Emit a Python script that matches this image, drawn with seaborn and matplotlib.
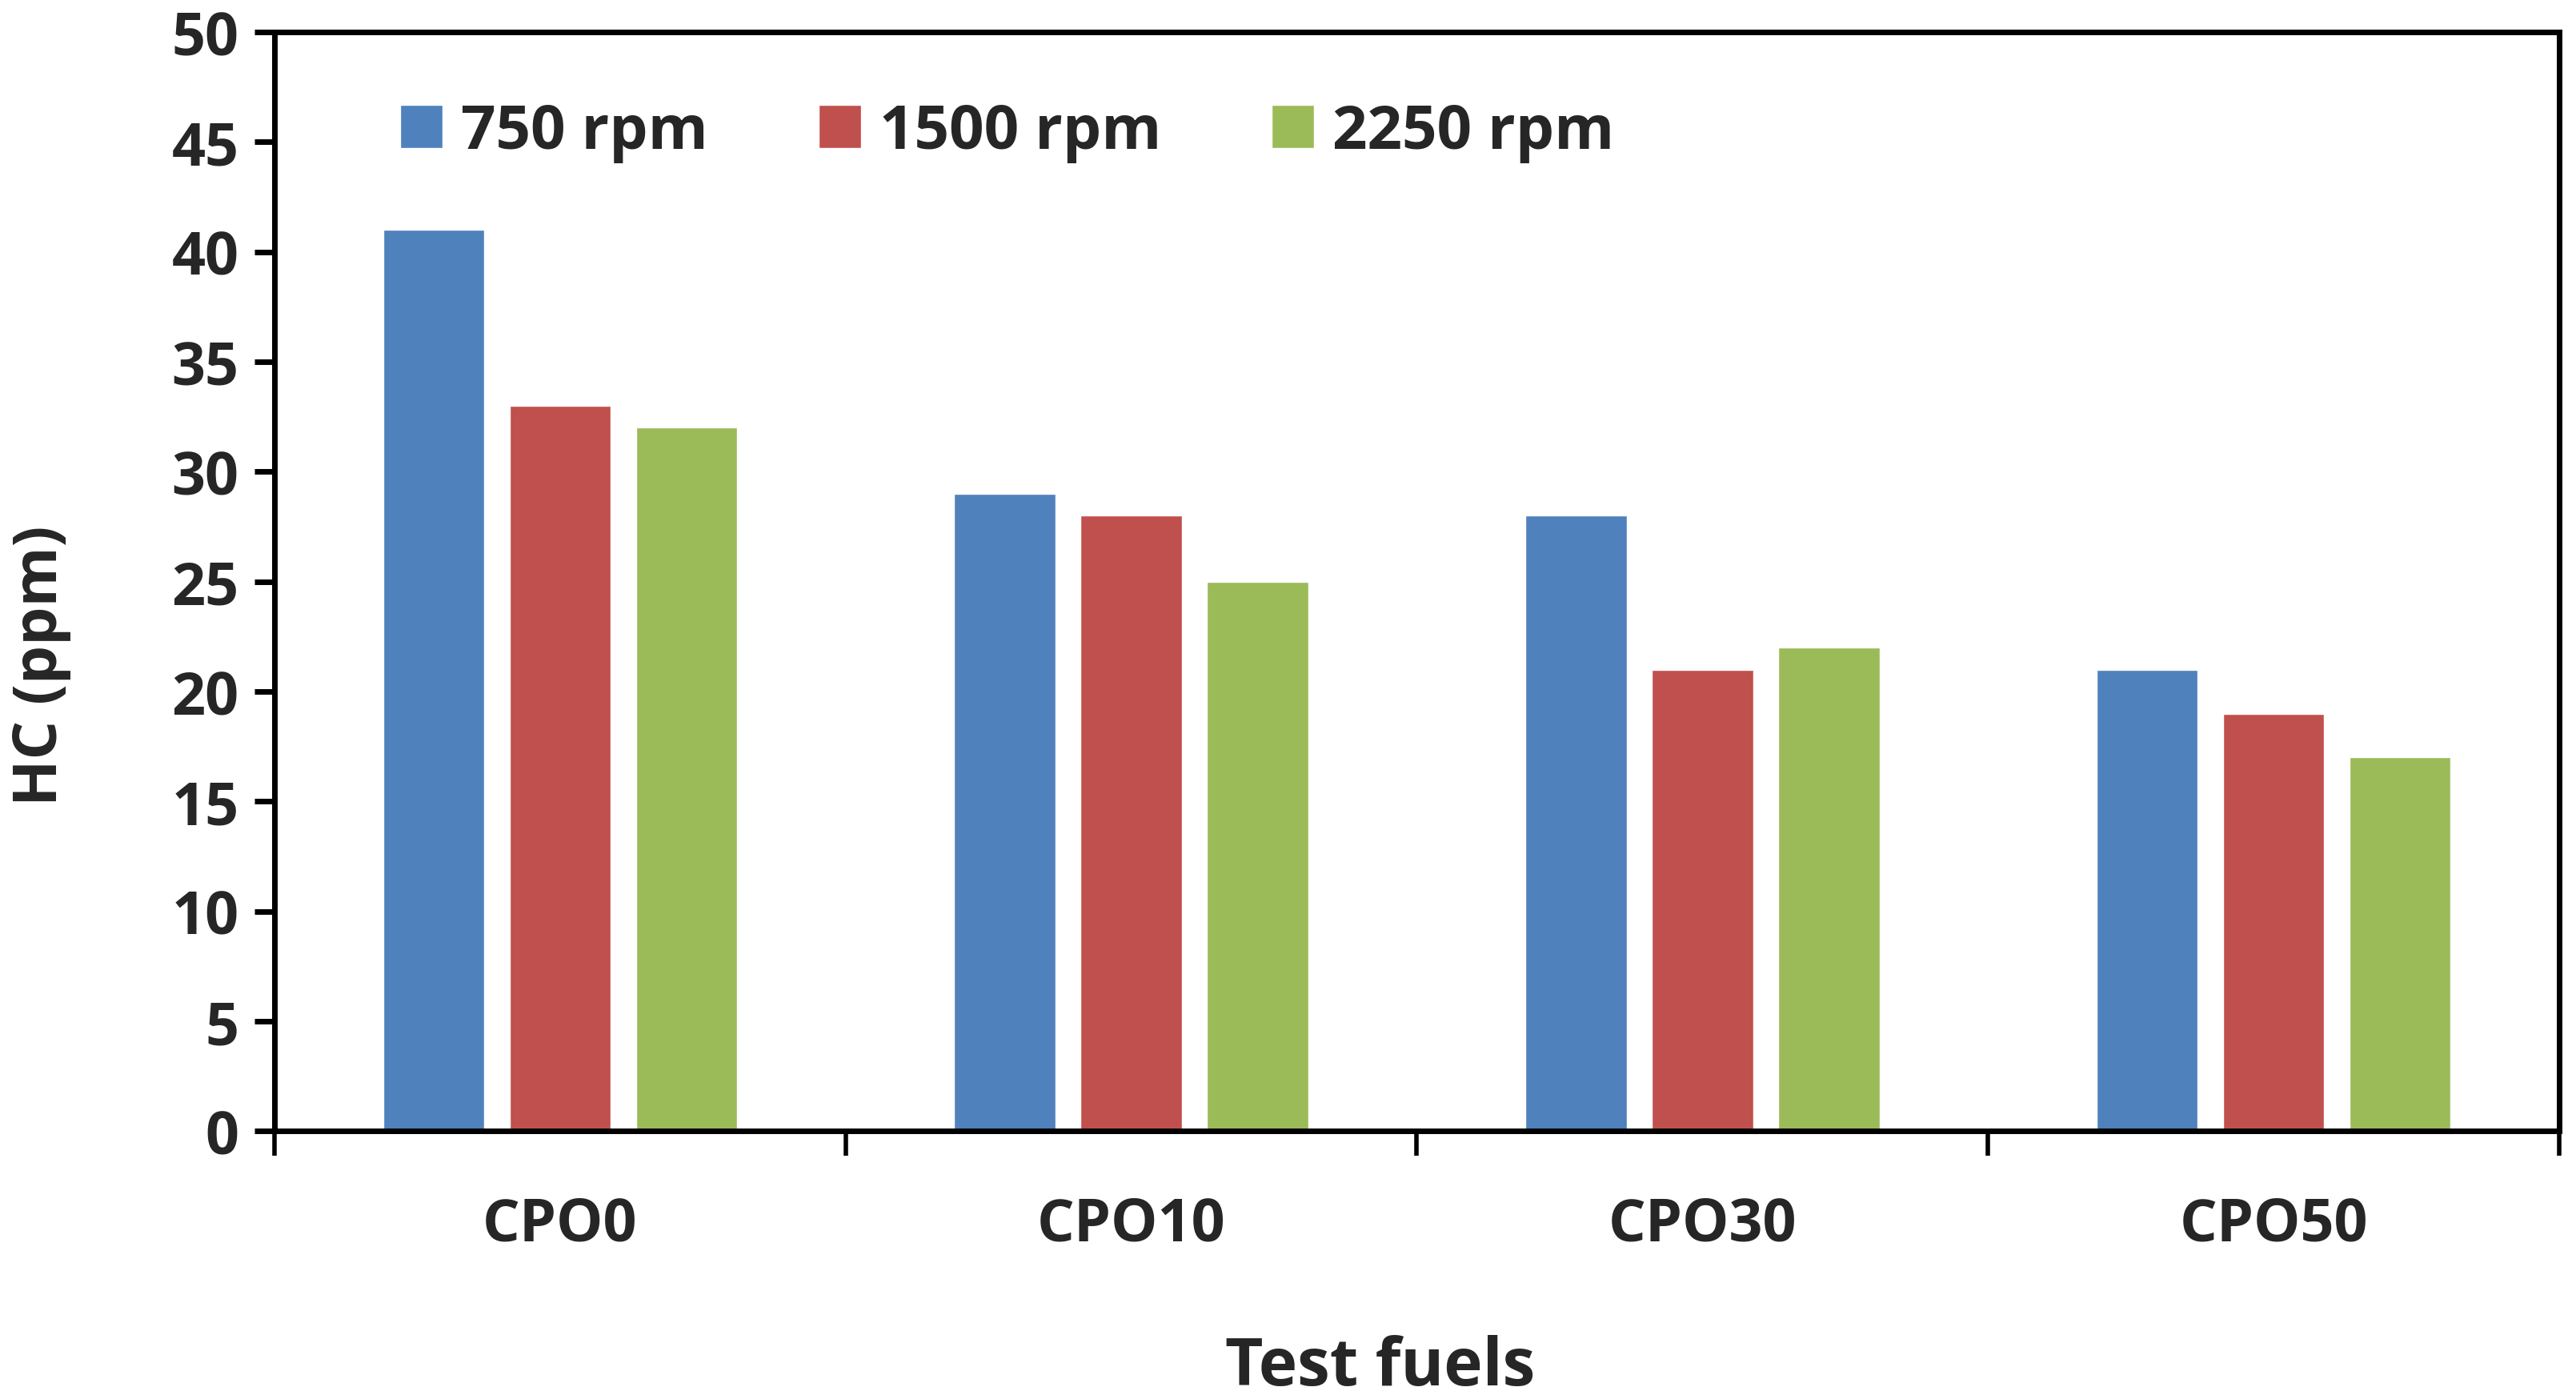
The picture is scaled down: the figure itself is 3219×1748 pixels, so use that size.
import pandas as pd
import matplotlib
matplotlib.use("Agg")
import matplotlib.pyplot as plt
import seaborn as sns

# datos
fuels = ["CPO0", "CPO10", "CPO30", "CPO50"]
speeds = ["750 rpm", "1500 rpm", "2250 rpm"]
hc_750 = [41, 29, 28, 21]
hc_1500 = [33, 28, 21, 19]
hc_2250 = [32, 25, 22, 17]
colors = ["#4F81BD", "#C0504D", "#9BBB59"]

rows = []
for vals, sp in zip([hc_750, hc_1500, hc_2250], speeds):
    for f, v in zip(fuels, vals):
        rows.append({"fuel": f, "speed": sp, "HC": v})
df = pd.DataFrame(rows)

sns.set_style("white")
plt.rcParams["font.family"] = ["Open Sans", "DejaVu Sans"]
plt.rcParams["font.weight"] = "bold"

fig = plt.figure(figsize=(32.19, 17.49), dpi=100)
ax = fig.add_axes([0.1065, 0.1913, 0.887, 0.7852])

sns.barplot(data=df, x="fuel", y="HC", hue="speed", order=fuels, hue_order=speeds,
            palette=colors, saturation=1, width=0.664, gap=0.2, ax=ax)

ax.set_ylim(0, 50)
ax.set_xlim(-0.5, 3.5)
ax.set_yticks(range(0, 51, 5))

# etiquetas en el centro, marcas en los limites de cada grupo
ax.set_xticks(range(len(fuels)))
ax.set_xticklabels(fuels)
ax.set_xticks([-0.5, 0.5, 1.5, 2.5, 3.5], minor=True)
ax.tick_params(axis="x", which="both", bottom=True)
ax.tick_params(axis="x", which="major", length=0, pad=58, labelsize=53)
ax.tick_params(axis="x", which="minor", length=22, width=4, direction="out", color="black")
ax.tick_params(axis="y", left=True, length=18, width=5, direction="out", color="black",
               pad=14, labelsize=53)

for s in ax.spines.values():
    s.set_linewidth(5)
    s.set_color("black")
    s.set_visible(True)

ax.set_xlabel("Test fuels", fontsize=59, fontweight="bold")
ax.set_ylabel("HC (ppm)", fontsize=55, fontweight="bold")
ax.xaxis.set_label_coords(0.484, -0.185)
ax.yaxis.set_label_coords(-0.089, 0.424)

ax.legend(loc="center left", bbox_to_anchor=(0.055, 0.909), ncol=3, frameon=False,
          fontsize=55, handlelength=0.7, handleheight=0.7, handletextpad=0.3,
          columnspacing=1.8, borderpad=0, borderaxespad=0)

fig.savefig("out.png", dpi=100, facecolor="white")
